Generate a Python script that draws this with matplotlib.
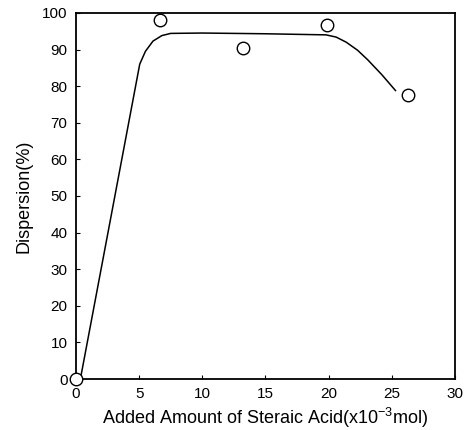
import matplotlib
matplotlib.use("Agg")
import matplotlib.pyplot as plt

plt.rcParams["font.family"] = ["Liberation Sans", "DejaVu Sans"]
plt.rcParams["mathtext.fontset"] = "custom"
plt.rcParams["mathtext.rm"] = "Liberation Sans"

# measured dispersion
acid_x = [0.0, 6.65, 13.25, 19.85, 26.3]
disp_y = [0.0, 98.1, 90.3, 96.7, 77.6]

# hand-drawn trend curve
curve_x = [0.35, 5.05, 5.5, 6.1, 6.8, 7.5, 10.0, 15.0, 19.8, 20.6, 21.4, 22.3, 23.1, 24.2, 25.3]
curve_y = [0.0, 86.0, 89.5, 92.3, 93.8, 94.4, 94.5, 94.3, 94.0, 93.4, 92.0, 89.8, 87.2, 83.2, 78.8]

xticks = [0, 5, 10, 15, 20, 25, 30]
yticks = [0, 10, 20, 30, 40, 50, 60, 70, 80, 90, 100]

fig = plt.figure(figsize=(4.66, 4.30), dpi=100)
ax = fig.add_axes([0.163, 0.1186, 0.813, 0.8514])

ax.plot(curve_x, curve_y, color="black", lw=1.1)
ax.plot(acid_x, disp_y, "o", ms=9, mfc="white", mec="black", mew=1.0, clip_on=False, zorder=3)

ax.set_xlim(0, 30)
ax.set_ylim(0, 100)
ax.set_xticks(xticks)
ax.set_yticks(yticks)
ax.tick_params(direction="in", length=3, width=0.8, labelsize=11)
ax.tick_params(axis="x", pad=6)
ax.tick_params(axis="y", pad=6)
for s in ax.spines.values():
    s.set_linewidth(1.3)

ax.set_xlabel("Added Amount of Steraic Acid(x10$^{-3}$mol)", fontsize=13, labelpad=3)
ax.set_ylabel("Dispersion(%)", fontsize=13, labelpad=7)

fig.savefig("out.png", dpi=100)
